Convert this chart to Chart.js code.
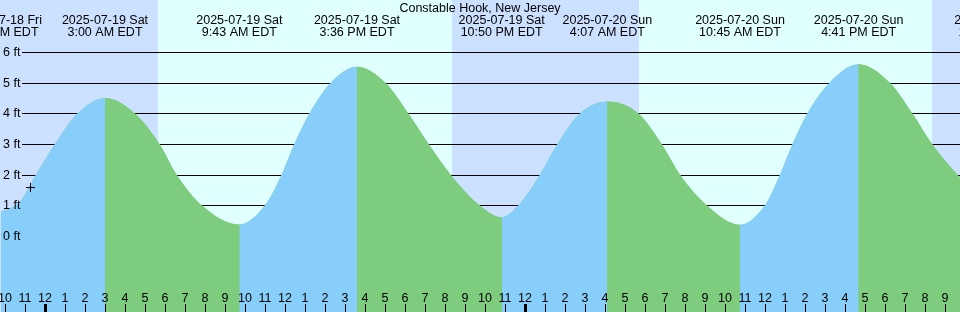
<!DOCTYPE html>
<html>
<head>
<meta charset="utf-8">
<script src="https://cdn.jsdelivr.net/npm/chart.js@4.4.1/dist/chart.umd.min.js"></script>
<style>
html,body{margin:0;padding:0;background:#fff}
canvas{display:block}
</style>
</head>
<body>
<canvas id="tideChart" width="960" height="312"></canvas>
<script>
const title = "Constable Hook, New Jersey"

// tide curve, hours counted from 2025-07-19 00:00 EDT, height in feet
const tideHours = [-2.2,-1.25,-0.45,0.5,1.62,3.0,4.5,5.72,6.58,7.83,9.717,11.0,11.83,12.47,13.22,14.28,15.6,17.03,18.17,19.18,20.28,21.72,22.833,23.67,24.75,25.62,26.75,28.117,29.67,30.83,31.75,33.08,34.75,36.0,36.75,37.38,38.12,39.22,40.683,42.25,43.37,44.35,45.62,47.7]
const tideFeet = [0.78,1.12,2.0,3.0,4.0,4.51,4.0,3.0,2.0,1.0,0.37,1.0,2.0,3.0,4.0,5.0,5.53,5.0,4.0,3.0,2.0,1.0,0.61,1.0,2.0,3.0,4.0,4.39,4.0,3.0,2.0,1.0,0.36,1.0,2.0,3.0,4.0,5.0,5.61,5.0,4.0,3.0,2.0,0.62]

// high / low tide events shown along the top
const eventHours = [-2.2,3.0,9.717,15.6,22.833,28.117,34.75,40.683,47.7]
const eventDates = ["2025-07-18 Fri","2025-07-19 Sat","2025-07-19 Sat","2025-07-19 Sat","2025-07-19 Sat","2025-07-20 Sun","2025-07-20 Sun","2025-07-20 Sun","2025-07-20 Sun"]
const eventTimes = ["9:48 PM EDT","3:00 AM EDT","9:43 AM EDT","3:36 PM EDT","10:50 PM EDT","4:07 AM EDT","10:45 AM EDT","4:41 PM EDT","11:42 PM EDT"]

// current time mark
const nowHours = [-0.725]
const nowFeet = [1.58]

// daylight
const sunriseHours = [5.63,29.7]
const sunsetHours = [20.35,44.35]

const feetTicks = [0,1,2,3,4,5,6]
const feetLabels = ["0 ft","1 ft","2 ft","3 ft","4 ft","5 ft","6 ft"]

const font = "12.5px 'Liberation Sans', Arial, sans-serif"
const nightColor = "#cce0ff"
const dayColor = "#e0ffff"
const risingColor = "#87cefa"
const fallingColor = "#7ecd7e"

function hourLabel(h){
let hh = ((h % 24) + 24) % 24
return String(hh % 12 || 12)
}

const tidePoints = tideHours.map((h, i) => ({x:h, y:tideFeet[i]}))

const tideDecor = {

id:"tideDecor",

beforeDatasetsDraw(chart){

const {ctx, chartArea:a, scales:{x, y}} = chart

ctx.save()

ctx.fillStyle = nightColor
ctx.fillRect(a.left, a.top, a.right - a.left, a.bottom - a.top)

ctx.fillStyle = dayColor
for(let i = 0; i < sunriseHours.length; i++){
const x0 = Math.round(x.getPixelForValue(sunriseHours[i]))
const x1 = Math.round(x.getPixelForValue(sunsetHours[i]))
ctx.fillRect(x0, a.top, x1 - x0, a.bottom - a.top)
}

// feet lines
ctx.strokeStyle = "#000"
ctx.lineWidth = 1
feetTicks.forEach(v => {
const py = Math.round(y.getPixelForValue(v)) + 0.5
ctx.beginPath()
ctx.moveTo(22, py)
ctx.lineTo(a.right, py)
ctx.stroke()
})

ctx.restore()

},

afterDatasetsDraw(chart){

const {ctx, chartArea:a, scales:{x, y}} = chart

ctx.save()
ctx.font = font
ctx.fillStyle = "#000"
ctx.textBaseline = "alphabetic"

// feet labels
ctx.textAlign = "left"
feetTicks.forEach((v, i) => {
ctx.fillText(feetLabels[i], 3, Math.round(y.getPixelForValue(v)) + 4)
})

// title and tide events
ctx.textAlign = "center"
ctx.fillText(title, (a.left + a.right) / 2, 12)
eventHours.forEach((h, i) => {
const px = x.getPixelForValue(h)
ctx.fillText(eventDates[i], px, 24)
ctx.fillText(eventTimes[i], px, 36)
})

// hour ticks
for(let h = Math.ceil(x.min); h <= Math.floor(x.max); h++){
const px = Math.round(x.getPixelForValue(h))
const midnight = ((h % 24) + 24) % 24 === 0
ctx.fillRect(midnight ? px - 1 : px, 304, midnight ? 3 : 1, 8)
ctx.fillText(hourLabel(h), px, 302)
}

ctx.restore()

}

}

const ctx = document.getElementById("tideChart").getContext("2d")

const tideChart = new Chart(ctx, {

type:"line",

data:{
datasets:[{
// rising / falling colours
data: tidePoints,
fill:"start",
borderWidth:0,
borderColor:"transparent",
backgroundColor:risingColor,
pointRadius:0,
cubicInterpolationMode:"monotone",
segment:{
backgroundColor: c => c.p1.parsed.y >= c.p0.parsed.y ? risingColor : fallingColor
},
order:2
},{
// plain fill underneath so segment joins leave no gaps
data: tidePoints,
fill:"start",
borderWidth:0,
borderColor:"transparent",
backgroundColor:fallingColor,
pointRadius:0,
cubicInterpolationMode:"monotone",
order:3
},{
type:"scatter",
data: nowHours.map((h, i) => ({x:h, y:nowFeet[i]})),
pointStyle:"cross",
pointRadius:4.5,
borderColor:"#000",
borderWidth:1,
order:1
}]
},

options:{
responsive:false,
animation:false,
devicePixelRatio:1,
layout:{padding:0, autoPadding:false},
plugins:{
legend:{display:false},
tooltip:{enabled:false}
},
scales:{
x:{type:"linear", display:false, min:-2.25, max:45.75},
y:{display:false, min:-2.49, max:7.71}
}
},

plugins:[tideDecor]

})
</script>
</body>
</html>
